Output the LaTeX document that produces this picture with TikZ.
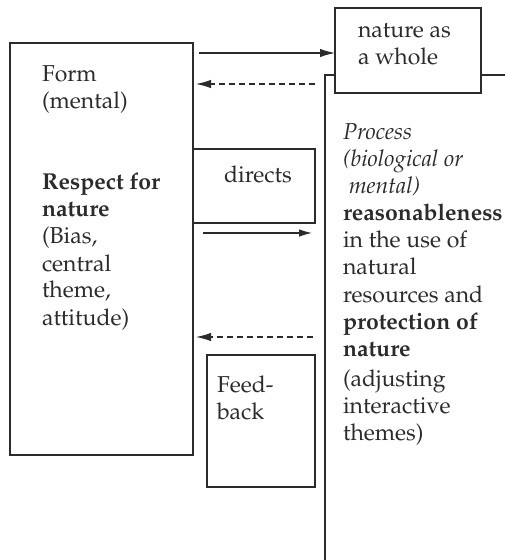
\documentclass[tikz,border=0pt]{standalone}
\usepackage[T1]{fontenc}
\usepackage{mathpazo}
\usetikzlibrary{arrows.meta}
\definecolor{ink}{HTML}{2B2B2B}
\begin{document}
\begin{tikzpicture}[x=0.5pt,y=-0.5pt,
  every node/.style={inner sep=0pt,outer sep=0pt,text=ink,font=\fontsize{11.5}{13.5}\selectfont},
  box/.style={draw=ink,line width=0.65pt,anchor=north west},
  lbl/.style={anchor=base west,align=left},
  con/.style={draw=ink,line width=0.55pt,-{Latex[length=7.5pt,width=4.2pt]}},
  dcon/.style={con,dash pattern=on 3pt off 2pt},
  line/.style={draw=ink,line width=0.65pt}]
\useasboundingbox (0,0) rectangle (505,560);
% boxes
\node[box,minimum width=91.5pt,minimum height=206pt] (form) at (10,43) {};
\node[box,minimum width=73pt,minimum height=42.5pt] (nature) at (335,8) {};
\node[box,minimum width=61pt,minimum height=37pt] (directs) at (193,149) {};
\node[box,minimum width=54pt,minimum height=66pt] (feed) at (207,355) {};
% process column
\coordinate (pt) at (325,75);
\coordinate (pb) at (325,560);
\coordinate (pr) at (505,75);
\draw[line] (pb) -- (pt) -- (nature.west |- pt);
\draw[line] (nature.east |- pt) -- (pr);
% texts
\node[lbl] (t1) at (42,82) {Form};
\node[lbl] (t2) at (42,109) {(mental)};
\node[lbl] (t3) at (42,190) {\textbf{Respect for}};
\node[lbl] (t4) at (42,217) {\textbf{nature}};
\node[lbl] (t5) at (42,244) {(Bias,};
\node[lbl] (t6) at (42,271) {central};
\node[lbl] (t7) at (42,298) {theme,};
\node[lbl] (t8) at (42,325) {attitude)};
\node[lbl] (n1) at (358,38) {nature as};
\node[lbl] (n2) at (358,65) {a whole};
\node[lbl] (d1) at (224,183) {directs};
\node[lbl] (f1) at (217,392) {Feed-};
\node[lbl] (f2) at (217,419) {back};
\node[lbl] (p1) at (343,140) {\textit{Process}};
\node[lbl] (p2) at (343,167) {\textit{(biological or}};
\node[lbl] (p3) at (343,194) {\textit{\ mental)}};
\node[lbl] (p4) at (343,221) {\textbf{reasonableness}};
\node[lbl] (p5) at (343,248) {in the use of};
\node[lbl] (p6) at (343,275) {natural};
\node[lbl] (p7) at (343,302) {resources and};
\node[lbl] (p8) at (343,329) {\textbf{protection of}};
\node[lbl] (p9) at (343,356) {\textbf{nature}};
\node[lbl] (p10) at (343,386) {(adjusting};
\node[lbl] (p11) at (343,413) {interactive};
\node[lbl] (p12) at (343,440) {themes)};
% connectors
\coordinate (a1s) at (199,53);
\coordinate (a2s) at (315,84);
\coordinate (a2e) at (196,84);
\coordinate (a3s) at (203,233);
\coordinate (a3e) at (312,233);
\coordinate (a4s) at (313,337);
\coordinate (a4e) at (196,337);
\draw[con] (a1s) -- (nature.west |- a1s);
\draw[dcon] (a2s) -- (a2e);
\draw[con,-{Latex[length=6.5pt,width=3.8pt]}] (a3s) -- (a3e);
\draw[dcon] (a4s) -- (a4e);
\end{tikzpicture}
\end{document}
